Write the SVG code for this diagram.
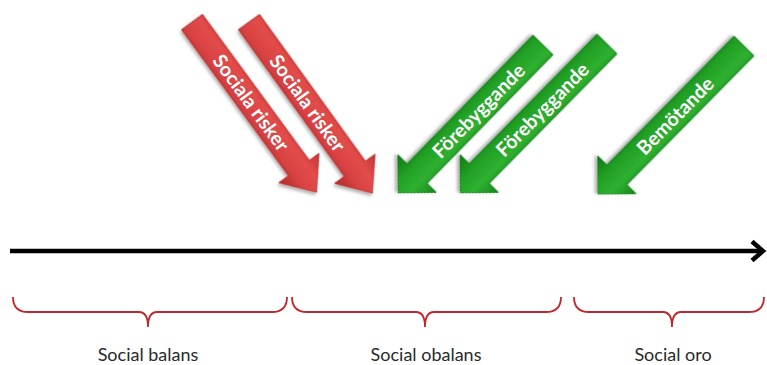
<svg xmlns="http://www.w3.org/2000/svg" width="767" height="365" viewBox="0 0 767 365">
  <style>
    .lbl { font-family: Lato, "Liberation Sans", sans-serif; font-size: 18px; fill: #2a2a2a; text-anchor: middle; }
    .atx { font-family: Lato, "Open Sans", "Liberation Sans", sans-serif; font-weight: bold; font-size: 19.5px; fill: #ffffff; text-anchor: middle; }
    .brace { fill: none; stroke: #c0282d; stroke-width: 1.8; }
    .red { fill: url(#gRed); stroke: #b22a2a; stroke-width: 0.8; filter: url(#sh); }
    .green { fill: url(#gGreen); stroke: #0f7a12; stroke-width: 0.8; filter: url(#sh); }
  </style>
  <defs>
    <linearGradient id="gRed" x1="0" y1="0" x2="0" y2="1">
      <stop offset="0" stop-color="#c43434"/>
      <stop offset="0.35" stop-color="#e24c4a"/>
      <stop offset="0.65" stop-color="#d84242"/>
      <stop offset="1" stop-color="#b02a2a"/>
    </linearGradient>
    <linearGradient id="gGreen" x1="0" y1="0" x2="0" y2="1">
      <stop offset="0" stop-color="#14861a"/>
      <stop offset="0.35" stop-color="#2fb030"/>
      <stop offset="0.65" stop-color="#22a024"/>
      <stop offset="1" stop-color="#0e7712"/>
    </linearGradient>
    <filter id="sh" x="-20%" y="-20%" width="140%" height="140%">
      <feDropShadow dx="1.5" dy="2.5" stdDeviation="1.8" flood-color="#000" flood-opacity="0.3"/>
    </filter>
  </defs>

  <g id="risk1" transform="translate(192,22) rotate(53.8)">
    <path class="red" d="M0,-13 H181 V-25 L211,0 L181,25 V13 H0 Z"/>
    <text class="atx" x="100" y="7">Sociala risker</text>
  </g>
  <g id="risk2" transform="translate(249,22) rotate(54.2)">
    <path class="red" d="M0,-13 H181 V-25 L211,0 L181,25 V13 H0 Z"/>
    <text class="atx" x="100" y="7">Sociala risker</text>
  </g>

  <g id="forebyggande1" transform="translate(543,45) rotate(134.4)">
    <path class="green" d="M0,-14 H180 V-27 L207,0 L180,27 V14 H0 Z"/>
    <text class="atx" x="92" y="7" transform="rotate(180,92,0)">Förebyggande</text>
  </g>
  <g id="forebyggande2" transform="translate(607,44) rotate(134.6)">
    <path class="green" d="M0,-14 H182 V-27 L209,0 L182,27 V14 H0 Z"/>
    <text class="atx" x="92" y="7" transform="rotate(180,92,0)">Förebyggande</text>
  </g>
  <g id="bemotande" transform="translate(744,46) rotate(134.6)">
    <path class="green" d="M0,-14 H181 V-27 L208,0 L181,27 V14 H0 Z"/>
    <text class="atx" x="98" y="7" transform="rotate(180,98,0)">Bemötande</text>
  </g>

  <g id="connectors">
    <line x1="10" y1="251" x2="762" y2="251" stroke="#000" stroke-width="4.5"/>
    <polyline points="752,241.5 763,251 752,260.5" fill="none" stroke="#000" stroke-width="4.5" stroke-linejoin="miter"/>
  </g>

  <g id="balans">
    <path class="brace" d="M13,297 Q13,312 28,312 H139 Q148,312 148,327 Q148,312 157,312 H272 Q287,312 287,297"/>
    <text class="lbl" x="148" y="361">Social balans</text>
  </g>
  <g id="obalans">
    <path class="brace" d="M292,297 Q292,312 307,312 H416 Q425,312 425,327 Q425,312 434,312 H546 Q561,312 561,297"/>
    <text class="lbl" x="426" y="361">Social obalans</text>
  </g>
  <g id="oro">
    <path class="brace" d="M574,297 Q574,312 589,312 H663 Q672,312 672,327 Q672,312 681,312 H749 Q764,312 764,297"/>
    <text class="lbl" x="673" y="361">Social oro</text>
  </g>
</svg>
